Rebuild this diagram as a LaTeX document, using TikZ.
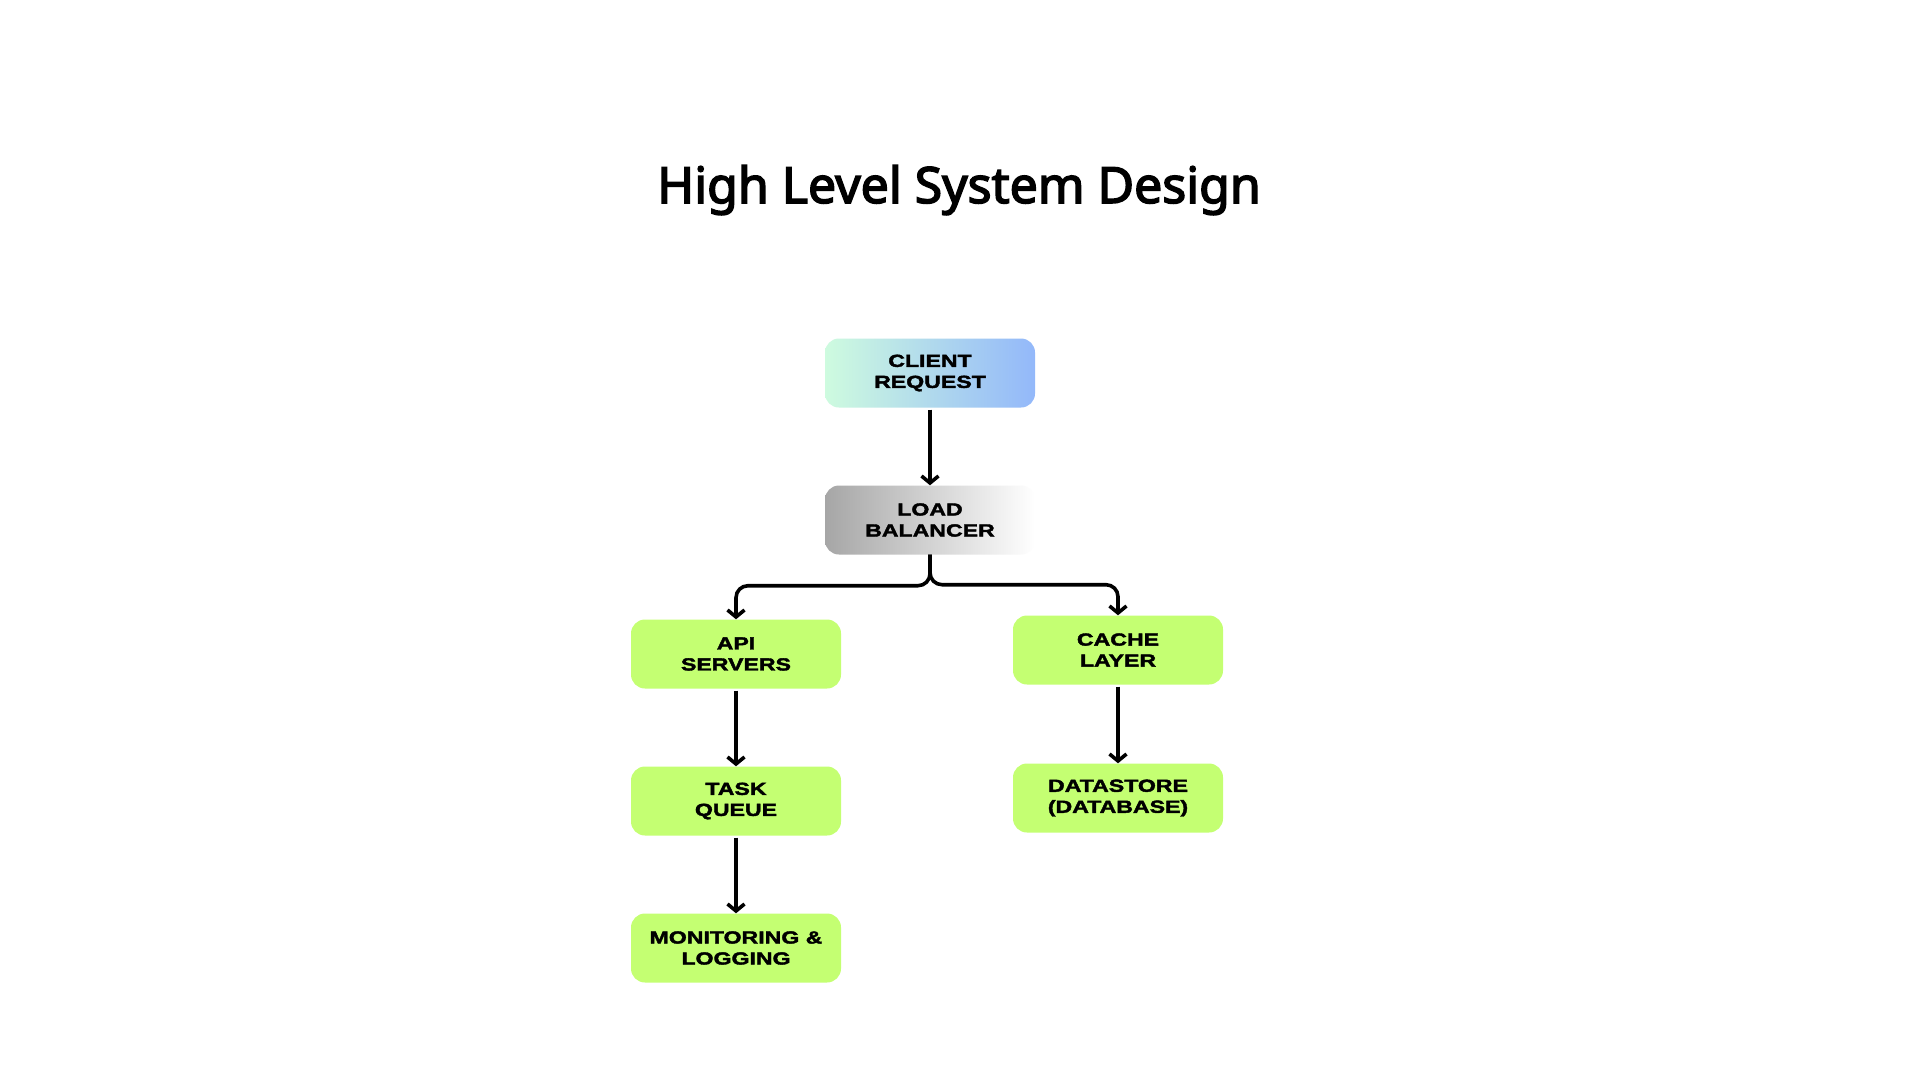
\documentclass[tikz,border=0pt]{standalone}
\usepackage{fontspec}
\setmainfont{Noto Sans}
\newfontfamily\titlefont[FakeBold=3]{Noto Sans}
\newfontfamily\boxfont[FakeStretch=1.32,FakeBold=2.2]{Liberation Sans}
\usetikzlibrary{arrows.meta,calc}
\definecolor{lime}{HTML}{C4FF72}
\definecolor{mint}{HTML}{CEFBDF}
\definecolor{skyb}{HTML}{93B8FA}
\definecolor{lbgray}{HTML}{A6A6A6}
\tikzset{
  box/.style={rounded corners=14pt, minimum width=210pt, minimum height=69pt,
    align=center, inner sep=0pt, font=\boxfont\bfseries\fontsize{17.5}{21}\selectfont},
  greenbox/.style={box, fill=lime},
  conn/.style={line width=3.6pt, draw=black, -{Straight Barb[length=7pt,width=17pt,line width=3.6pt]}},
}
\begin{document}
\begin{tikzpicture}[x=1pt,y=-1pt]
\fill[white] (0,0) rectangle (1920,1080);
\useasboundingbox (0,0) rectangle (1920,1080);
\node[font=\titlefont\fontsize{50}{58}\selectfont] (title) at (959,190) {High Level System Design};
\node[box, left color=mint, right color=skyb] (client) at (930,373) {CLIENT\\REQUEST};
\node[box, left color=lbgray, right color=white] (lb) at (930,520) {LOAD\\BALANCER};
\node[greenbox] (api) at (736,654) {API\\SERVERS};
\node[greenbox] (cache) at (1118,650) {CACHE\\LAYER};
\node[greenbox] (task) at (736,801) {TASK\\QUEUE};
\node[greenbox] (data) at (1118,798) {DATASTORE\\(DATABASE)};
\node[greenbox] (mon) at (736,948) {MONITORING \&\\LOGGING};
\draw[conn] ($(client.south)+(0,2)$) -- (lb.north);
\draw[conn, rounded corners=12pt] (lb.south) -- ++(0,31) -| (api.north);
\draw[conn, rounded corners=12pt] (lb.south) -- ++(0,30) -| (cache.north);
\draw[conn] ($(api.south)+(0,2)$) -- (task.north);
\draw[conn] ($(task.south)+(0,2)$) -- (mon.north);
\draw[conn] ($(cache.south)+(0,2)$) -- (data.north);
\end{tikzpicture}
\end{document}
